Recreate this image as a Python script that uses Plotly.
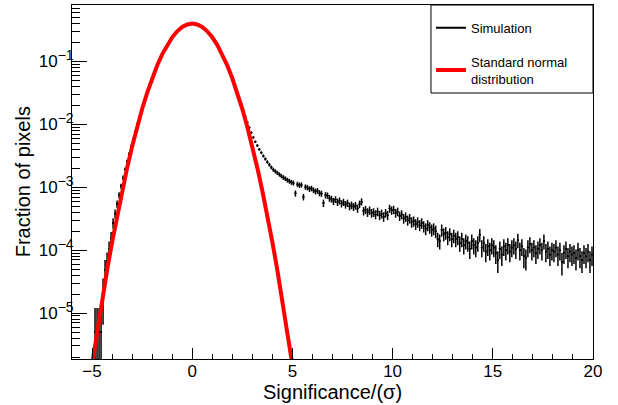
import numpy as np
import plotly.graph_objects as go

# ---------------- data ----------------
# Simulated significance histogram: 0.1-wide bins from -5 to 20 (fraction of pixels)
BIN_START = -5.0
BIN_WIDTH = 0.1
COUNT_UNIT = 1.0e-5   # fraction represented by one pixel count (for Poisson error bars)

sim_fraction = [
    # -5 .. -4
    None, 5e-6, 5e-6, 5e-6, 5e-6, 2.1e-5, 4.8e-5, 6.6e-5, 1.05e-4, 1.55e-4,
    # -4 .. -3
    2.7e-4, 3.8e-4, 5.4e-4, 7.5e-4, 1.04e-3, 1.42e-3, 1.93e-3, 2.58e-3, 3.42e-3, 4.53e-3,
    # -3 .. -2
    5.9e-3, 7.8e-3, 1.02e-2, 1.32e-2, 1.70e-2, 2.16e-2, 2.73e-2, 3.41e-2, 4.23e-2, 5.19e-2,
    # -2 .. -1
    0.0630, 0.0759, 0.0906, 0.1070, 0.1251, 0.1448, 0.1660, 0.1883, 0.2115, 0.2353,
    # -1 .. 0
    0.2590, 0.2826, 0.3053, 0.3264, 0.3455, 0.3621, 0.3757, 0.3860, 0.3930, 0.3963,
    # 0 .. 1
    0.3960, 0.3918, 0.3837, 0.3722, 0.3576, 0.3402, 0.3205, 0.2990, 0.2762, 0.2527,
    # 1 .. 2
    0.2289, 0.2052, 0.1822, 0.1601, 0.1394, 0.1202, 0.1026, 0.0868, 0.0727, 0.0603,
    # 2 .. 3
    0.0496, 0.0404, 0.0327, 0.0263, 0.0210, 0.0168, 0.0135, 0.0109, 0.0089, 0.0074,
    # 3 .. 4
    0.0062, 0.0053, 0.0046, 0.0040, 0.00355, 0.00315, 0.00282, 0.00252, 0.00228, 0.00207,
    # 4 .. 5
    1.90e-3, 1.79e-3, 1.69e-3, 1.60e-3, 1.51e-3, 1.43e-3, 1.37e-3, 1.30e-3, 1.25e-3, 1.20e-3,
    # 5 .. 6
    1.17e-3, 8.0e-4, 1.12e-3, 1.08e-3, 1.09e-3, 7.0e-4, 1.01e-3, 9.9e-4, 9.4e-4, 9.6e-4,
    # 6 .. 7
    9.0e-4, 8.6e-4, 8.8e-4, 8.1e-4, 7.9e-4, 5.6e-4, 7.5e-4, 7.4e-4, 6.7e-4, 6.5e-4,
    # 7 .. 8
    6.0e-4, 6.4e-4, 5.8e-4, 6.1e-4, 5.5e-4, 5.8e-4, 5.3e-4, 5.6e-4, 5.0e-4, 5.2e-4,
    # 8 .. 9
    4.9e-4, 5.1e-4, 4.6e-4, 5.4e-4, 5.9e-4, 4.2e-4, 4.4e-4, 4.0e-4, 4.3e-4, 3.9e-4,
    # 9 .. 10
    4.0e-4, 3.7e-4, 4.1e-4, 3.6e-4, 3.8e-4, 3.4e-4, 3.9e-4, 3.6e-4, 4.6e-4, 4.3e-4,
    # 10 .. 11
    4.4e-4, 3.9e-4, 4.1e-4, 3.5e-4, 3.7e-4, 3.2e-4, 3.4e-4, 3.0e-4, 3.2e-4, 2.8e-4,
    # 11 .. 12
    2.9e-4, 2.6e-4, 2.8e-4, 2.5e-4, 2.7e-4, 2.4e-4, 2.2e-4, 2.5e-4, 2.3e-4, 2.1e-4,
    # 12 .. 13
    2.2e-4, 2.0e-4, 1.5e-4, 1.4e-4, 2.1e-4, 1.8e-4, 1.9e-4, 1.6e-4, 1.8e-4, 1.5e-4,
    # 13 .. 14
    1.7e-4, 1.5e-4, 1.6e-4, 1.3e-4, 1.5e-4, 1.2e-4, 1.4e-4, 1.3e-4, 1.05e-4, 1.4e-4,
    # 14 .. 15
    1.2e-4, 1.1e-4, 1.3e-4, 1.75e-4, 1.1e-4, 1.3e-4, 0.95e-4, 1.15e-4, 1.0e-4, 1.2e-4,
    # 15 .. 16
    1.1e-4, 0.9e-4, 0.7e-4, 1.05e-4, 0.85e-4, 1.15e-4, 1.0e-4, 1.2e-4, 0.95e-4, 1.1e-4,
    # 16 .. 17
    1.2e-4, 1.05e-4, 1.45e-4, 1.0e-4, 1.15e-4, 0.8e-4, 0.75e-4, 1.1e-4, 1.25e-4, 1.0e-4,
    # 17 .. 18
    1.1e-4, 0.9e-4, 1.05e-4, 1.2e-4, 1.0e-4, 1.4e-4, 0.95e-4, 1.05e-4, 0.85e-4, 1.0e-4,
    # 18 .. 19
    0.95e-4, 1.1e-4, 0.85e-4, 1.0e-4, 0.65e-4, 0.9e-4, 1.05e-4, 0.8e-4, 0.95e-4, 0.85e-4,
    # 19 .. 20
    0.9e-4, 0.75e-4, 1.0e-4, 0.8e-4, 0.7e-4, 0.9e-4, 0.8e-4, 0.95e-4, 0.7e-4, 0.85e-4,
]

# Standard normal distribution curve (tabulated)
normal_x = [-5.0, -4.75, -4.5, -4.25, -4.0, -3.75, -3.5, -3.25, -3.0, -2.75, -2.5,
            -2.25, -2.0, -1.75, -1.5, -1.25, -1.0, -0.75, -0.5, -0.25, 0.0,
            0.25, 0.5, 0.75, 1.0, 1.25, 1.5, 1.75, 2.0, 2.25, 2.5,
            2.75, 3.0, 3.25, 3.5, 3.75, 4.0, 4.25, 4.5, 4.75, 5.0]
normal_pdf = [1.487e-6, 5.03e-6, 1.598e-5, 4.77e-5, 1.338e-4, 3.53e-4, 8.73e-4, 2.029e-3,
              4.432e-3, 9.094e-3, 1.7528e-2, 3.174e-2, 5.3991e-2, 8.6277e-2, 0.129518,
              0.182649, 0.241971, 0.301137, 0.352065, 0.386668, 0.398942,
              0.386668, 0.352065, 0.301137, 0.241971, 0.182649, 0.129518, 8.6277e-2,
              5.3991e-2, 3.174e-2, 1.7528e-2, 9.094e-3, 4.432e-3, 2.029e-3, 8.73e-4,
              3.53e-4, 1.338e-4, 4.77e-5, 1.598e-5, 5.03e-6, 1.487e-6]

x_tick_vals = [-5, 0, 5, 10, 15, 20]
y_tick_vals = [1e-5, 1e-4, 1e-3, 1e-2, 1e-1]
SUP = "<sup><span style='font-size:14px'>\u2212{}</span></sup>"
y_tick_text = ["10" + SUP.format(k) for k in (5, 4, 3, 2, 1)]

# ---------------- derived ----------------
n_bins = len(sim_fraction)
centers = BIN_START + BIN_WIDTH * (np.arange(n_bins) + 0.5)
vals = np.array([np.nan if v is None else v for v in sim_fraction], dtype=float)
err = np.sqrt(vals * COUNT_UNIT)
err_minus = np.minimum(err, vals * 0.999)

FONT = "Liberation Sans, Arial, Helvetica, sans-serif"

fig = go.Figure()

# legend-only entry for the simulation (line symbol)
fig.add_trace(go.Scatter(x=[None], y=[None], mode="lines",
                         line=dict(color="black", width=2),
                         name="Simulation", legendgroup="a"))

fig.add_trace(go.Scatter(
    x=centers, y=vals, mode="markers",
    marker=dict(color="black", size=2),
    error_y=dict(type="data", array=err, arrayminus=err_minus, symmetric=False,
                 color="black", thickness=1.5, width=0),
    error_x=dict(type="constant", value=BIN_WIDTH / 2, color="black",
                 thickness=1.4, width=0),
    showlegend=False, hoverinfo="skip"))

fig.add_trace(go.Scatter(
    x=normal_x, y=normal_pdf, mode="lines", line=dict(color="#ff0000", width=4),
    name="Standard normal<br>distribution", legendgroup="b"))

fig.update_layout(
    width=618, height=405,
    margin=dict(l=72, r=25, t=5, b=46),
    paper_bgcolor="white", plot_bgcolor="white",
    font=dict(family=FONT, color="black", size=17),
    showlegend=True,
    legend=dict(x=0.689, y=0.978, xanchor="left", yanchor="top",
                bgcolor="rgba(0,0,0,0)", borderwidth=0,
                font=dict(size=13, family=FONT), tracegroupgap=14,
                itemwidth=30),
    shapes=[dict(type="rect", xref="paper", yref="paper",
                 x0=0.689, x1=1.0, y0=0.7514, y1=1.0,
                 line=dict(color="black", width=1), fillcolor="white",
                 layer="above")],
    annotations=[
        dict(text="Significance/(\u03c3)", xref="paper", yref="paper",
             x=0.5, y=-0.0935, xanchor="center", yanchor="middle",
             showarrow=False, font=dict(size=20, family=FONT)),
        dict(text="Fraction of pixels", xref="paper", yref="paper",
             x=-0.0935, y=0.5, xanchor="center", yanchor="middle", textangle=-90,
             showarrow=False, font=dict(size=20, family=FONT)),
    ],
)

fig.update_xaxes(
    range=[-6, 20], showline=True, linecolor="black", linewidth=1, mirror=True,
    showgrid=False, zeroline=False,
    tickmode="array", tickvals=x_tick_vals, ticks="inside", ticklen=11,
    tickcolor="black", tickwidth=1, ticklabelstandoff=-3,
    tickfont=dict(size=17, family=FONT),
    minor=dict(ticks="inside", ticklen=5, dtick=1, tickcolor="black", showgrid=False),
)

fig.update_yaxes(
    type="log", range=[-5.73, -0.103], showline=True, linecolor="black", linewidth=1,
    mirror=True, showgrid=False, zeroline=False,
    tickmode="array", tickvals=y_tick_vals, ticktext=y_tick_text,
    ticks="inside", ticklen=15, tickcolor="black", tickwidth=1,
    ticklabelstandoff=-6,
    tickfont=dict(size=17, family=FONT),
    minor=dict(ticks="inside", ticklen=8, dtick="D1", tickcolor="black", showgrid=False),
)

fig.write_html("out.html", config={"displayModeBar": False},
               post_script="document.body.style.margin='0';")
